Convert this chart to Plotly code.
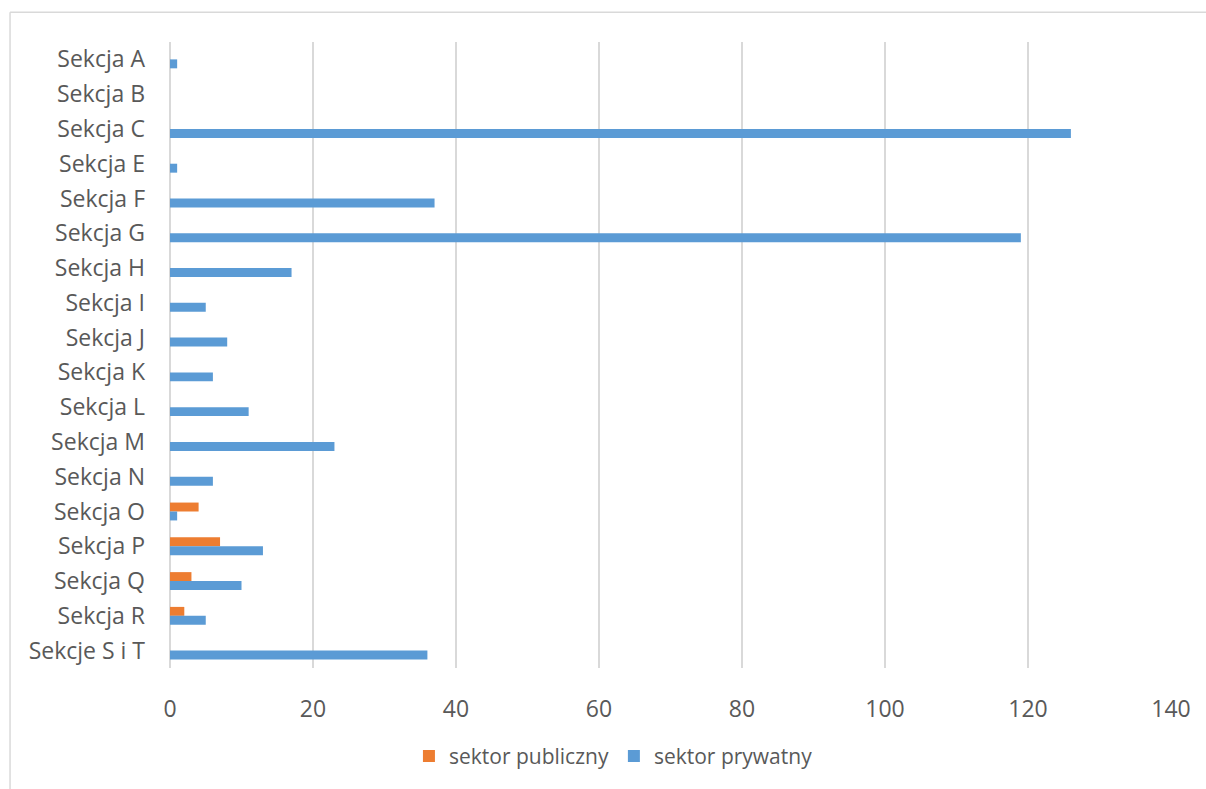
import plotly.graph_objects as go

categories = ["Sekcja A", "Sekcja B", "Sekcja C", "Sekcja E", "Sekcja F", "Sekcja G",
              "Sekcja H", "Sekcja I", "Sekcja J", "Sekcja K", "Sekcja L", "Sekcja M",
              "Sekcja N", "Sekcja O", "Sekcja P", "Sekcja Q", "Sekcja R", "Sekcje S i T"]
publiczny = [0, 0, 0, 0, 0, 0, 0, 0, 0, 0, 0, 0, 0, 4, 7, 3, 2, 0]
prywatny = [1, 0, 126, 1, 37, 119, 17, 5, 8, 6, 11, 23, 6, 1, 13, 10, 5, 36]
x_ticks = [0, 20, 40, 60, 80, 100, 120, 140]

FONT = "Open Sans"
GRAY = "#595959"
GRID = "#d9d9d9"

fig = go.Figure()
fig.add_trace(go.Bar(y=categories, x=publiczny, orientation="h", name="sektor publiczny",
                     marker=dict(color="#ED7D31", line=dict(width=0))))
fig.add_trace(go.Bar(y=categories, x=prywatny, orientation="h", name="sektor prywatny",
                     marker=dict(color="#5B9BD5", line=dict(width=0))))

fig.update_layout(
    width=1206, height=789,
    margin=dict(l=170, r=35, t=42, b=116),
    paper_bgcolor="white", plot_bgcolor="white",
    barmode="group", bargap=0.486, bargroupgap=0,
    font=dict(family=FONT, color=GRAY),
    showlegend=True,
    legend=dict(orientation="h", x=0.443, xanchor="center", y=-0.141, yanchor="middle",
                font=dict(family=FONT, size=21, color=GRAY), traceorder="normal",
                itemsizing="constant"),
    xaxis=dict(range=[0, 140], tickvals=x_ticks, showgrid=True, gridcolor=GRID, gridwidth=1.5,
               zeroline=True, zerolinecolor=GRID, zerolinewidth=1.5, showline=False,
               ticks="", tickfont=dict(family=FONT, size=23, color=GRAY), ticklabelstandoff=25),
    yaxis=dict(autorange="reversed", type="category", showgrid=False, zeroline=False,
               showline=False, ticks="", tickfont=dict(family=FONT, size=23, color=GRAY),
               ticklabelstandoff=24),
    shapes=[
        dict(type="line", xref="paper", yref="paper", x0=-0.1598, x1=1.2, y0=1.0475, y1=1.0475,
             line=dict(color=GRID, width=1.5)),
        dict(type="line", xref="paper", yref="paper", x0=-0.1598, x1=-0.1598, y0=1.0475, y1=-0.3,
             line=dict(color=GRID, width=1.5)),
    ],
)

fig.write_html("out.html")
